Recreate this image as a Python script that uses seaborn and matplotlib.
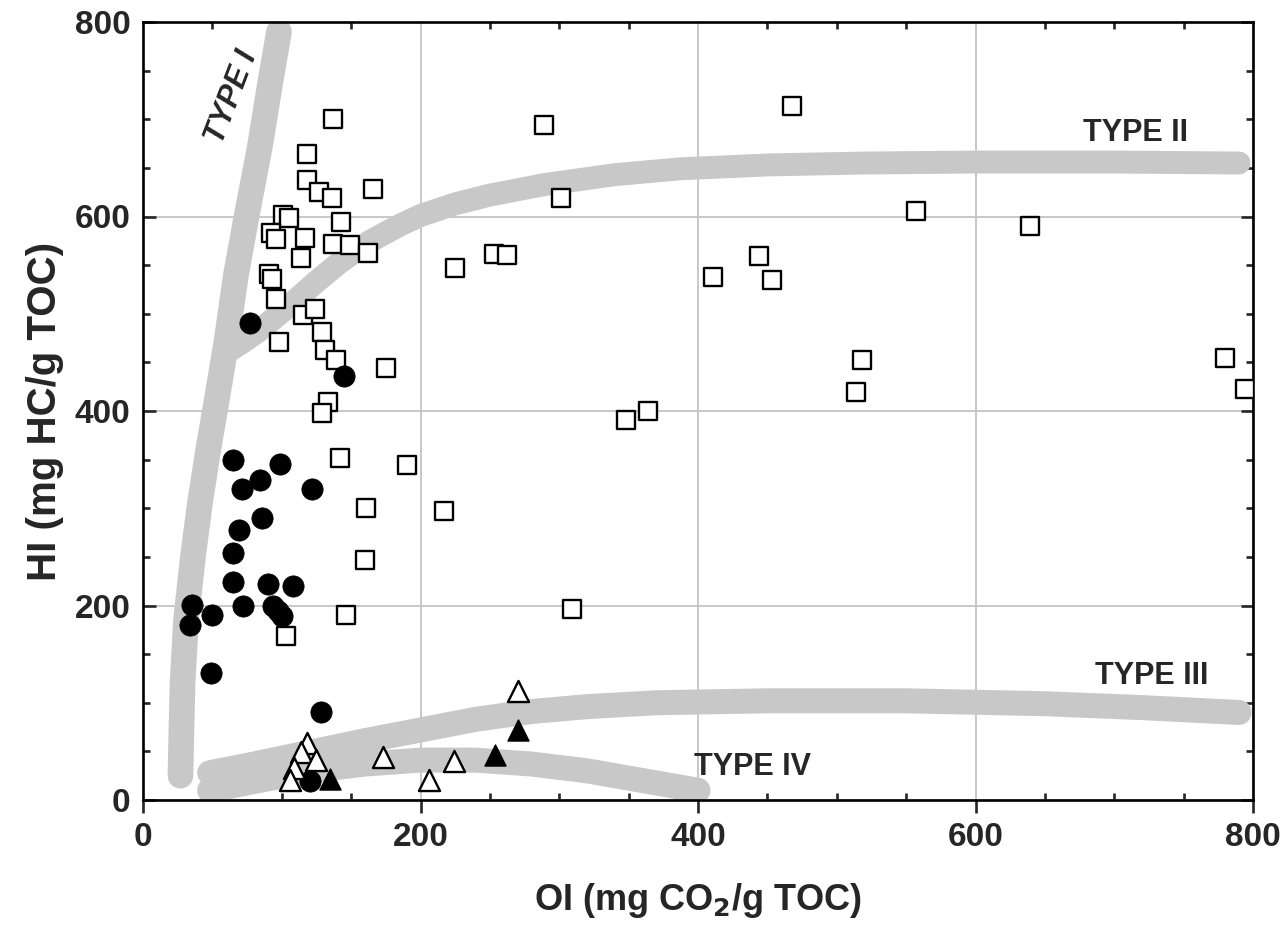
import numpy as np
import pandas as pd
import matplotlib
matplotlib.use("Agg")
import matplotlib.pyplot as plt
from matplotlib.ticker import MultipleLocator
import seaborn as sns

# ---------------- data ----------------
sq_oi = [137, 118, 118, 127, 136, 166, 101, 105, 92, 96, 117, 143, 137, 149, 162, 114,
         91, 93, 96, 115, 124, 98, 129, 131, 139, 175, 133, 129, 142, 161, 160, 146, 103,
         190, 217, 225, 253, 262, 289, 301, 348, 364, 309, 468, 411, 444, 453, 557, 639,
         518, 514, 780, 794]
sq_hi = [700, 664, 638, 625, 619, 628, 602, 598, 583, 577, 578, 594, 572, 571, 562, 557,
         541, 536, 515, 499, 505, 471, 481, 463, 452, 444, 409, 398, 352, 300, 247, 190, 169,
         344, 297, 547, 561, 560, 694, 619, 391, 400, 196, 714, 538, 559, 535, 606, 590,
         452, 420, 454, 423]

ci_oi = [77, 145, 65, 99, 84, 71, 122, 86, 69, 65, 65, 90, 108, 35, 72, 94, 97, 100, 50,
         34, 49, 128, 120]
ci_hi = [490, 436, 350, 345, 329, 320, 320, 290, 278, 254, 224, 222, 220, 201, 200, 200,
         194, 189, 190, 180, 131, 90, 20]

otri_oi = [118, 114, 125, 109, 106, 173, 224, 206, 270]
otri_hi = [59, 49, 41, 33, 21, 44, 40, 21, 112]

ftri_oi = [135, 254, 270]
ftri_hi = [22, 46, 72]

# kerogen type reference bands (centre lines)
type1_oi = [98, 92, 84, 75, 67, 60, 53, 47, 41, 36, 31, 28.5, 27.5, 27]
type1_hi = [790, 740, 670, 603, 540, 470, 410, 360, 305, 250, 185, 120, 60, 25]
type2_oi = [60, 72, 84, 106, 125, 142, 163, 185, 200, 225, 250, 290, 340, 387, 450,
            520, 600, 700, 790]
type2_hi = [460, 471, 483, 509, 533, 553, 574, 591, 601, 613, 622, 633, 643, 649, 653,
            655, 656, 656, 655]
type3_oi = [48, 80, 120, 160, 200, 240, 280, 320, 370, 450, 550, 650, 720, 790]
type3_hi = [28, 37, 49, 61, 72, 83, 91, 96, 100, 102, 102, 99, 95, 90]
type4_oi = [48, 80, 120, 160, 200, 240, 280, 320, 360, 400]
type4_hi = [10, 19, 30, 37, 41, 41, 37, 30, 20, 10]

ticks = [0, 200, 400, 600, 800]

# ---------------- style ----------------
sns.set_style("white")
plt.rcParams['font.family'] = ['Liberation Sans', 'DejaVu Sans']
plt.rcParams['font.weight'] = 'bold'

fig = plt.figure(figsize=(12.88, 9.34), dpi=100)
ax = fig.add_axes([143 / 1288, 1 - 800 / 934, 1110 / 1288, 778 / 934])

band_col = '#c8c8c8'
for xs, ys, lw in [(type1_oi, type1_hi, 18.5), (type2_oi, type2_hi, 16.5),
                   (type3_oi, type3_hi, 18), (type4_oi, type4_hi, 18)]:
    sns.lineplot(x=xs, y=ys, ax=ax, sort=False, estimator=None, color=band_col, lw=lw,
                 solid_capstyle='round', solid_joinstyle='round', zorder=1)

ax.grid(True, which='major', color='#c4c4c4', lw=1.3, zorder=0)
ax.set_axisbelow(True)

sns.scatterplot(x=sq_oi, y=sq_hi, ax=ax, marker='s', s=165, facecolor='white',
                edgecolor='black', linewidth=1.7, zorder=3)
sns.scatterplot(x=ci_oi, y=ci_hi, ax=ax, marker='o', s=235, color='black',
                edgecolor='black', linewidth=0.5, zorder=4)
sns.scatterplot(x=otri_oi, y=otri_hi, ax=ax, marker='^', s=230, facecolor='white',
                edgecolor='black', linewidth=1.7, zorder=4)
sns.scatterplot(x=ftri_oi, y=ftri_hi, ax=ax, marker='^', s=230, color='black',
                edgecolor='black', linewidth=1.0, zorder=4)

ax.set_xlim(0, 800)
ax.set_ylim(0, 800)
ax.set_xticks(ticks)
ax.set_yticks(ticks)
ax.xaxis.set_minor_locator(MultipleLocator(50))
ax.yaxis.set_minor_locator(MultipleLocator(50))

for sp in ax.spines.values():
    sp.set_linewidth(1.9)
    sp.set_color('black')

ax.tick_params(axis='x', which='major', direction='out', length=9, width=1.9,
               bottom=True, top=False, labelsize=24, pad=7)
ax.tick_params(axis='y', which='major', direction='in', length=9, width=1.9,
               left=True, right=True, labelsize=24, pad=9)
ax.tick_params(axis='both', which='minor', direction='in', length=5, width=1.9,
               bottom=True, top=True, left=True, right=True)
for lab in ax.get_xticklabels() + ax.get_yticklabels():
    lab.set_fontweight('bold')

ax.set_xlabel('OI (mg CO$_\\mathbf{2}$/g TOC)', fontsize=26, fontweight='bold', labelpad=20)
ax.set_ylabel('HI (mg HC/g TOC)', fontsize=29, fontweight='bold', labelpad=8)

ax.text(64, 723, 'TYPE I', fontsize=22, fontweight='bold', fontstyle='italic',
        rotation=69, ha='center', va='center')
ax.text(715, 686, 'TYPE II', fontsize=22, fontweight='bold', ha='center', va='center')
ax.text(727, 128, 'TYPE III', fontsize=22, fontweight='bold', ha='center', va='center')
ax.text(439, 34, 'TYPE IV', fontsize=22, fontweight='bold', ha='center', va='center')

fig.savefig('out.png', dpi=100)
